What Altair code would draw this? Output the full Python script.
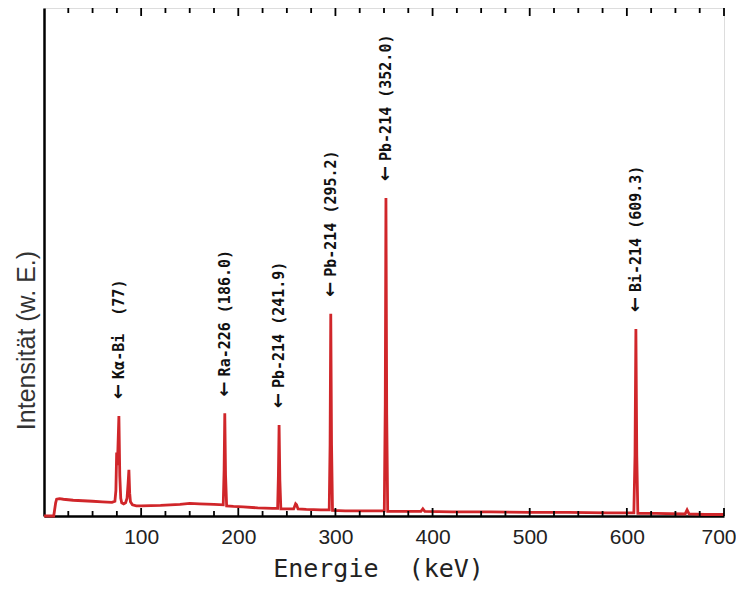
import altair as alt
import pandas as pd

# spectrum (energy in keV, intensity in arbitrary units)
energy = [0, 10, 12, 13, 16, 20, 30, 40, 50, 60, 70, 73, 74, 74.8, 75.6, 76.2, 77.1, 78, 79, 80, 82, 84,
          85.5, 86.6, 87.4, 88.2, 89, 91, 95, 100, 120, 140, 150, 160, 175, 184.5, 185.4, 186.1, 186.9, 188,
          195, 205, 220, 235, 240.5, 241.3, 242, 242.8, 243.8, 250, 257, 259, 260, 261.5, 270, 285, 293.6,
          294.5, 295.2, 296, 297, 310, 330, 350.3, 351.3, 352, 352.8, 353.8, 370, 388, 390, 392, 420, 460,
          500, 540, 580, 600, 607.2, 608.4, 609.3, 610.2, 611.3, 630, 660, 662, 664, 680, 700]
counts = [0, 0, 2.6, 3.3, 3.4, 3.3, 3.1, 3.0, 2.9, 2.8, 2.7, 2.9, 5.0, 12.5, 10.0, 14.0, 19.7, 8.0, 3.5, 2.6, 2.4, 2.6,
          3.5, 6.5, 9.1, 4.5, 2.8, 2.2, 2.0, 2.0, 2.1, 2.3, 2.5, 2.4, 2.3, 2.2, 9.0, 20.2, 8.0, 2.0,
          1.9, 1.8, 1.6, 1.5, 1.5, 8.0, 17.9, 7.0, 1.4, 1.4, 1.4, 2.4, 2.2, 1.4, 1.3, 1.2, 1.2,
          14.0, 39.8, 14.0, 1.1, 1.0, 1.0, 1.0, 22.0, 62.6, 20.0, 0.9, 0.9, 0.9, 1.4, 0.9, 0.8, 0.8,
          0.7, 0.7, 0.6, 0.6, 0.6, 12.0, 36.8, 12.0, 0.5, 0.5, 0.4, 1.2, 0.4, 0.3, 0.3]

peak_energy = [77, 186.0, 241.9, 295.2, 352.0, 609.3]
peak_height = [19.7, 20.2, 17.9, 39.8, 62.6, 36.8]
peak_label = ["K\u03b1-Bi\u00a0 (77)", "Ra-226 (186.0)", "Pb-214 (241.9)",
              "Pb-214 (295.2)", "Pb-214 (352.0)", "Bi-214 (609.3)"]
arrow = "\u2190"

major_ticks = [100, 200, 300, 400, 500, 600, 700]
minor_ticks = [25, 50, 75, 125, 150, 175, 225, 250, 275, 325, 350, 375, 425, 450, 475,
               525, 550, 575, 625, 650, 675]

W, H = 680, 508
RED = "#d0262a"

spec = pd.DataFrame({"E": energy, "I": counts})
peaks = pd.DataFrame({"E": peak_energy, "I": peak_height, "label": peak_label})
majors = pd.DataFrame({"E": major_ticks})
minors = pd.DataFrame({"E": minor_ticks})

xs = alt.Scale(domain=[0, 700], nice=False, zero=False)
ys = alt.Scale(domain=[0, 100], nice=False)

xaxis = alt.Axis(values=major_ticks, ticks=False, grid=False, domainColor="black", domainWidth=2.5,
                 labelFont="Liberation Sans", labelFontSize=21, labelColor="#222", labelPadding=10,
                 labelFlush=True, labelFlushOffset=12,
                 title="Energie\u00a0 (keV)", titleFont="DejaVu Sans Mono", titleFontSize=25,
                 titleFontWeight="normal", titleColor="#222", titleBaseline="alphabetic",
                 titleY=60, titleX=W / 2 - 6, titleAlign="center")
yaxis = alt.Axis(labels=False, ticks=False, grid=False, domainColor="black", domainWidth=2.5,
                 title="Intensität (w. E.)", titleFont="Liberation Sans", titleFontSize=25,
                 titleFontWeight="normal", titleColor="#333", titleX=-18, titleY=332,
                 titleAngle=-90, titleBaseline="middle", titleAlign="center")

line = alt.Chart(spec).mark_line(color=RED, strokeWidth=2.8, strokeJoin="miter").encode(
    x=alt.X("E:Q", scale=xs, axis=xaxis),
    y=alt.Y("I:Q", scale=ys, axis=yaxis),
)

def tick_layer(df, length):
    bottom = alt.Chart(df).mark_rule(color="black", strokeWidth=1.8).encode(
        x=alt.X("E:Q", scale=xs), y=alt.value(H), y2=alt.value(H - length))
    top = alt.Chart(df).mark_rule(color="black", strokeWidth=1.8).encode(
        x=alt.X("E:Q", scale=xs), y=alt.value(0), y2=alt.value(length))
    return bottom + top

arrows = alt.Chart(peaks).mark_text(angle=270, align="left", baseline="middle", dx=17,
                                    font="DejaVu Sans", fontWeight="bold", fontSize=18,
                                    color="#111", text=arrow).encode(
    x=alt.X("E:Q", scale=xs), y=alt.Y("I:Q", scale=ys))

labels = alt.Chart(peaks).mark_text(angle=270, align="left", baseline="middle", dx=37,
                                    font="DejaVu Sans Mono", fontWeight="bold", fontSize=15,
                                    color="#111").encode(
    x=alt.X("E:Q", scale=xs), y=alt.Y("I:Q", scale=ys), text="label:N")

chart = alt.layer(
    line, tick_layer(minors, 5), tick_layer(majors, 8), arrows, labels
).properties(
    width=W, height=H,
    autosize=alt.AutoSizeParams(type="none"),
    padding={"left": 36, "top": 0, "right": 12, "bottom": 67},
).configure_view(stroke="black", strokeWidth=2).configure(background="white")

chart.save("out.html", embed_options={"renderer": "svg", "actions": False})
